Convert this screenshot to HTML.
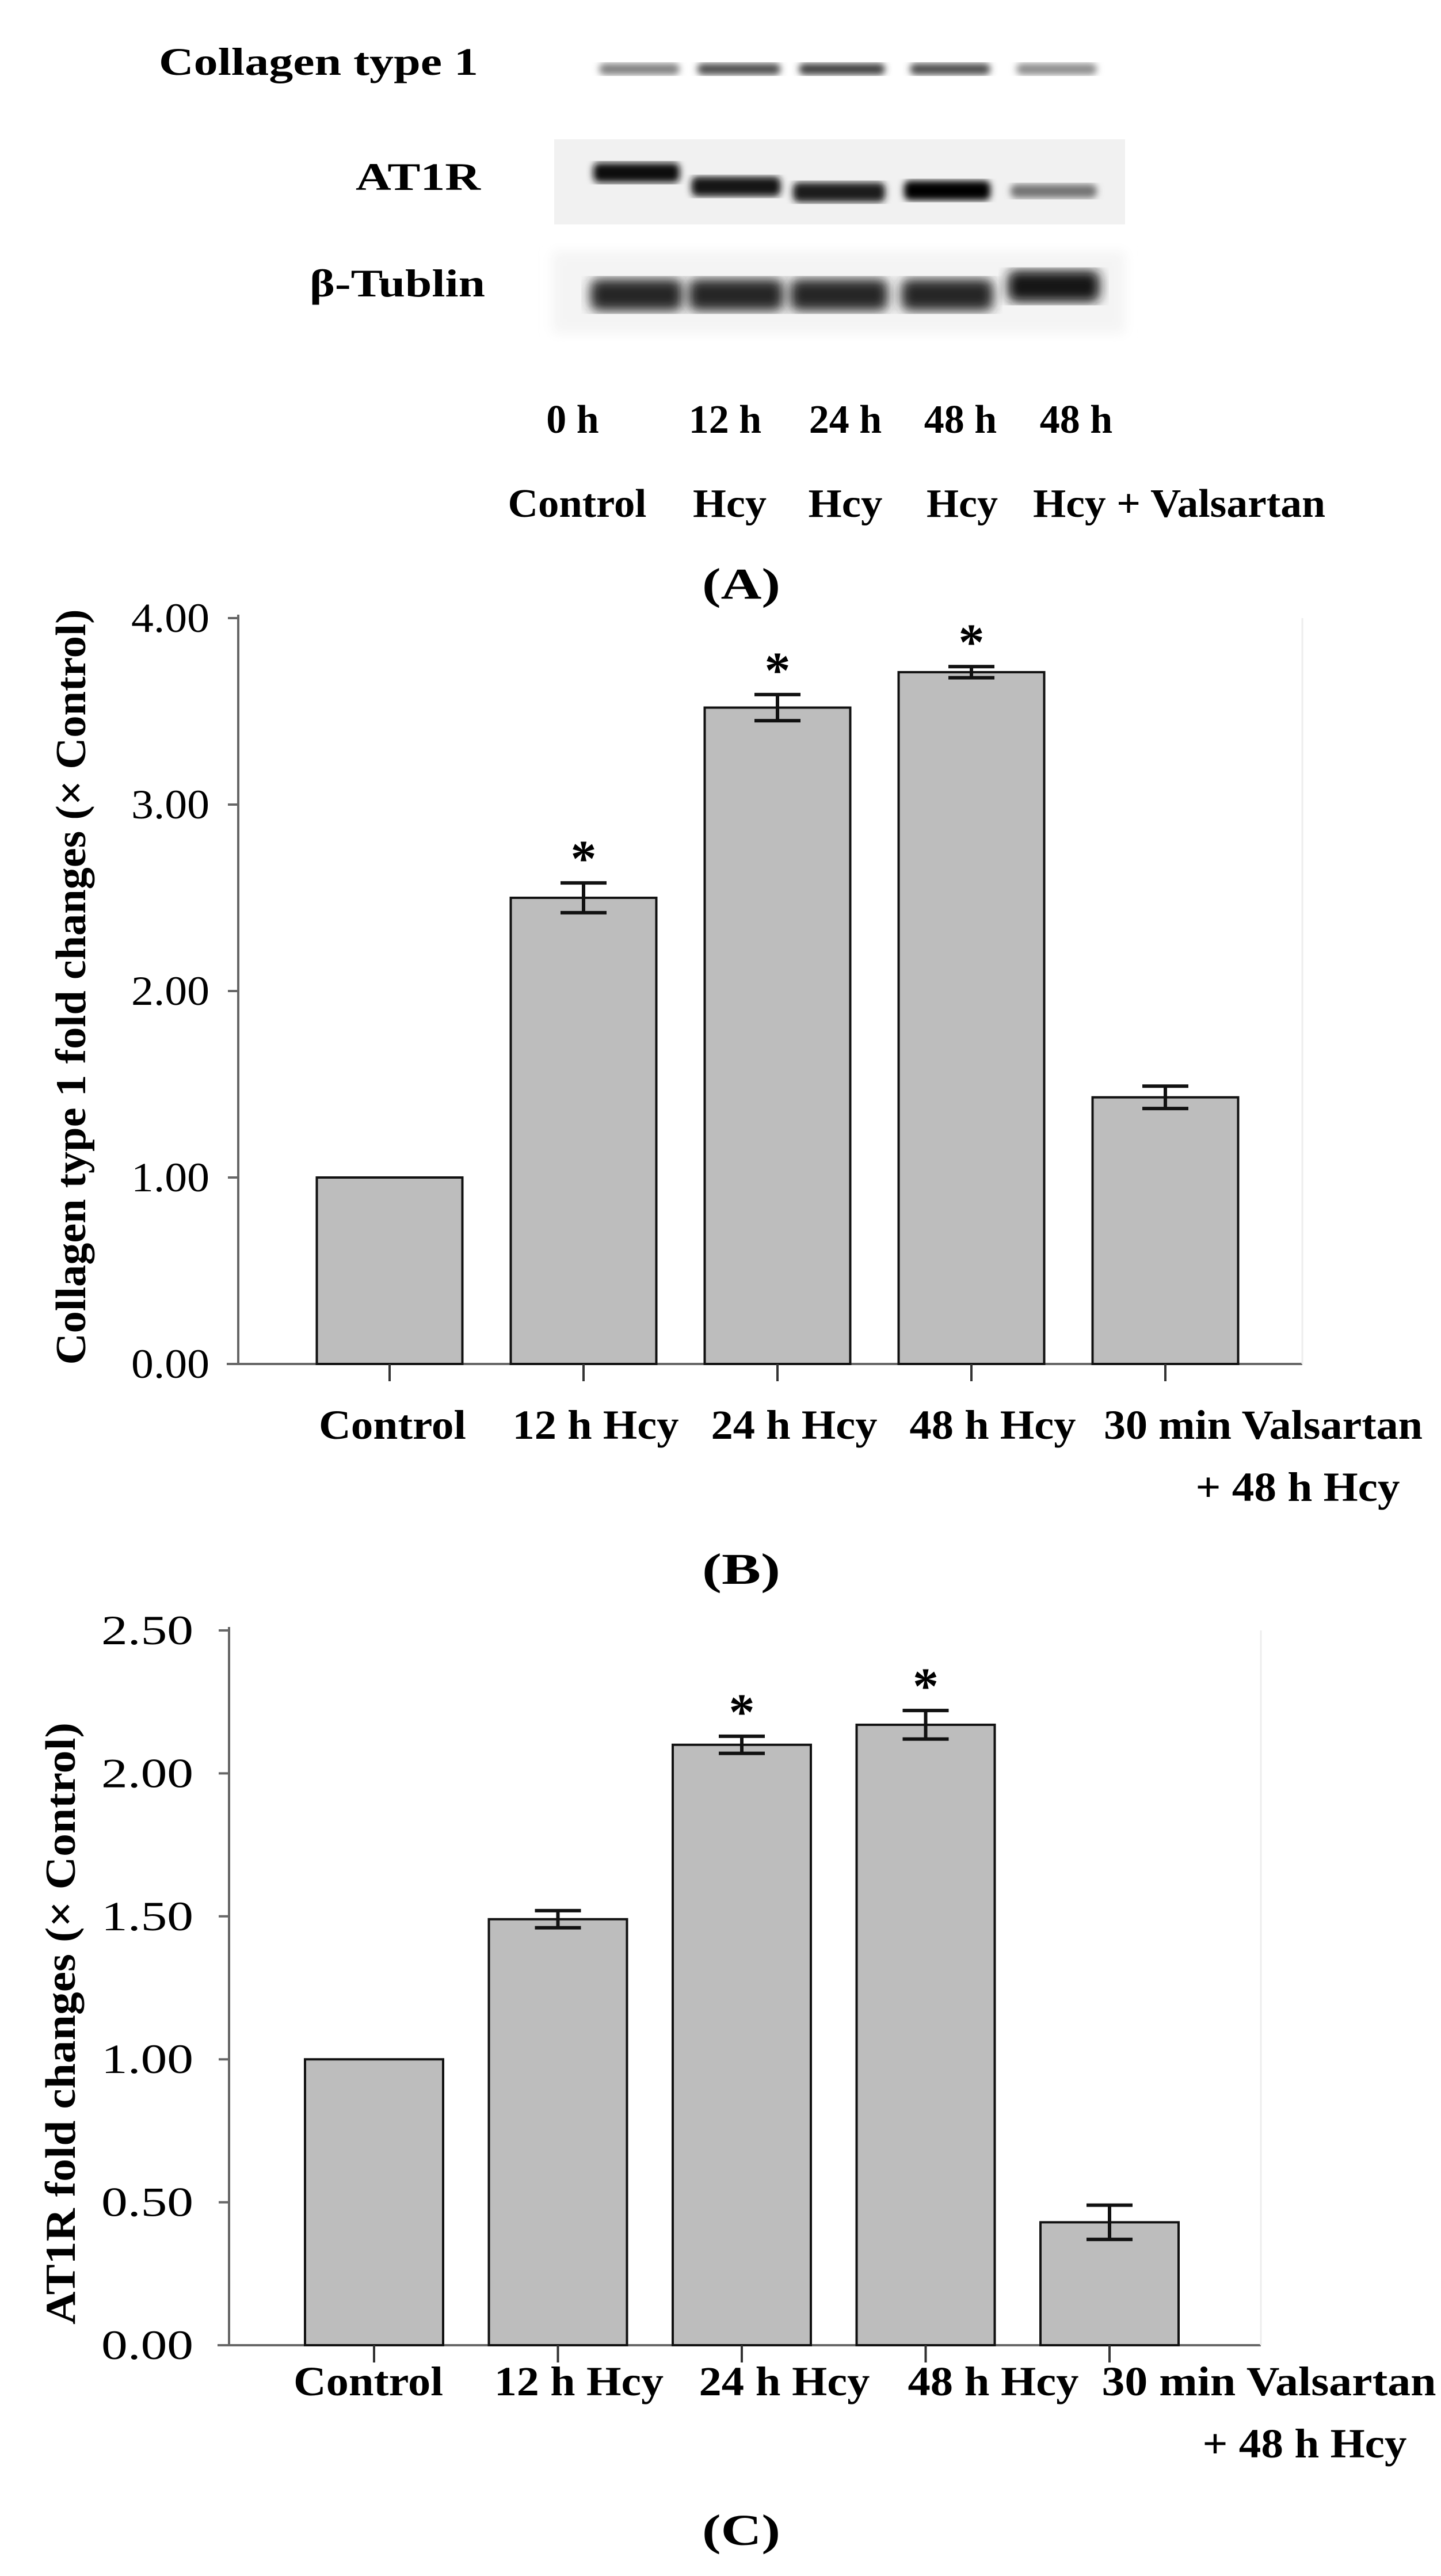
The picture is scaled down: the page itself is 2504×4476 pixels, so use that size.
<!DOCTYPE html>
<html><head><meta charset="utf-8">
<style>
html,body{margin:0;padding:0;background:#fff;}
svg{display:block;}
text{font-family:"Liberation Serif",serif;font-weight:bold;fill:#000;}
</style></head>
<body>
<svg id="fig" width="2504" height="4476" viewBox="0 0 2504 4476" xmlns="http://www.w3.org/2000/svg">
<defs>
<filter id="blur6"><feGaussianBlur stdDeviation="6"/></filter>
<filter id="blur10"><feGaussianBlur stdDeviation="10"/></filter>
</defs>
<g id="panelA">
  <text x="276" y="130" font-size="68" textLength="555" lengthAdjust="spacingAndGlyphs">Collagen type 1</text>
  <text x="618" y="330" font-size="68" textLength="217" lengthAdjust="spacingAndGlyphs">AT1R</text>
  <text x="538" y="515" font-size="68" textLength="305" lengthAdjust="spacingAndGlyphs">β-Tublin</text>
  <rect x="963" y="242" width="992" height="148" fill="#f1f1f1"/>
  <rect x="960" y="437" width="995" height="142" fill="#f4f4f4" filter="url(#blur10)"/>
  <g id="bands"></g>
  <g id="laneLabels"></g>
  <text x="1220" y="1040" font-size="76" textLength="136" lengthAdjust="spacingAndGlyphs">(A)</text>
</g>
<g id="chartB"></g>
<g id="chartC"></g>
</svg>
<script>
// ----- Chart B data -----
const bCategories = ["Control", "12 h Hcy", "24 h Hcy", "48 h Hcy", "30 min Valsartan"];
const bValues = [1.00, 2.50, 3.52, 3.71, 1.43];
const bErrors = [0.00, 0.08, 0.07, 0.03, 0.06];
const bSignif = [false, true, true, true, false];
const bTicks = ["0.00", "1.00", "2.00", "3.00", "4.00"];
const bTickValues = [0, 1, 2, 3, 4];
// ----- Chart C data -----
const cCategories = ["Control", "12 h Hcy", "24 h Hcy", "48 h Hcy", "30 min Valsartan"];
const cValues = [1.00, 1.49, 2.10, 2.17, 0.43];
const cErrors = [0.00, 0.03, 0.03, 0.05, 0.06];
const cSignif = [false, false, true, true, false];
const cTicks = ["0.00", "0.50", "1.00", "1.50", "2.00", "2.50"];
const cTickValues = [0, 0.5, 1, 1.5, 2, 2.5];
// ----- Blot data (band intensity 0..1) -----
const blotCollagen = [0.5, 0.7, 0.75, 0.7, 0.45];
const blotAT1R = [0.95, 0.9, 0.88, 0.98, 0.55];
const blotTubulin = [0.85, 0.85, 0.85, 0.85, 0.9];
const laneTimes = ["0 h", "12 h", "24 h", "48 h", "48 h"];
const laneTreat = ["Control", "Hcy", "Hcy", "Hcy", "Hcy + Valsartan"];

const NS = "http://www.w3.org/2000/svg";
function mk(tag, attrs, parent) {
  const e = document.createElementNS(NS, tag);
  for (const k in attrs) e.setAttribute(k, attrs[k]);
  parent.appendChild(e);
  return e;
}

// Blots
const bandsG = document.getElementById("bands");
const laneX = [1111, 1284, 1463, 1651, 1836];
const laneW = [140, 145, 150, 140, 140];
const at1rY = [299, 323, 333, 330, 336];
blotCollagen.forEach((v, i) => {
  const g = Math.round(255 * (1 - v));
  const r = mk("rect", {x: laneX[i] - laneW[i]/2, y: 110, width: laneW[i], height: 20, rx: 10, fill: `rgb(${g},${g},${g})`, filter: "url(#blur6)"}, bandsG);
  
  
});
blotAT1R.forEach((v, i) => {
  const g = Math.round(255 * (1 - v));
  const r = mk("rect", {x: laneX[i] - laneW[i]/2 - 10, y: at1rY[i] - 16, width: laneW[i] + 10, height: v > 0.7 ? 34 : 24, rx: 10, fill: `rgb(${g},${g},${g})`, filter: "url(#blur6)"}, bandsG);
  
  
});
blotTubulin.forEach((v, i) => {
  const g = Math.round(255 * (1 - v));
  const y = i === 4 ? 470 : 485;
  const r = mk("rect", {x: laneX[i] - laneW[i]/2 - 15, y: y, width: laneW[i] + 20, height: 55, rx: 14, fill: `rgb(${g},${g},${g})`, filter: "url(#blur10)"}, bandsG);
  
  
});
const ll = document.getElementById("laneLabels");
const timeX = [995, 1260, 1469, 1669, 1870];
const treatX = [1003, 1268, 1469, 1672, 2049];
const treatW = [241, 128, 129, 124, 508];
laneTimes.forEach((t, i) => {
  const e = mk("text", {x: timeX[i], y: 752, "font-size": 70, "text-anchor": "middle"}, ll);
  
  
  e.textContent = t;
});
laneTreat.forEach((t, i) => {
  const e = mk("text", {x: treatX[i], y: 898, "font-size": 70, "text-anchor": "middle", textLength: treatW[i], lengthAdjust: "spacingAndGlyphs"}, ll);
  
  
  e.textContent = t;
});

function drawChart(g, o) {
  const yScale = v => o.y0 - (v - o.vmin) / (o.vmax - o.vmin) * (o.y0 - o.y1);
  const xCenter = i => o.xFirst + i * o.step;
  let e = mk("line", {x1: o.ax, y1: o.y1 - 6, x2: o.ax, y2: o.y0, stroke: "#666", "stroke-width": 4}, g);
   
  e = mk("line", {x1: o.ax - 20, y1: o.y0, x2: o.axEnd, y2: o.y0, stroke: "#666", "stroke-width": 4}, g);
   
  e = mk("line", {x1: o.axEnd, y1: o.y1, x2: o.axEnd, y2: o.y0, stroke: "#eee", "stroke-width": 3}, g);
   
  o.tickValues.forEach((tv, k) => {
    const y = yScale(tv);
    let t = mk("line", {x1: o.ax - 18, y1: y, x2: o.ax, y2: y, stroke: "#666", "stroke-width": 4}, g);
     
    t = mk("text", {x: o.ax - o.tickGap, y: y + 24, "font-size": 72, "text-anchor": "end", textLength: o.tickW, lengthAdjust: "spacingAndGlyphs", style: "font-weight:normal"}, g);
     
    t.textContent = o.ticks[k];
  });
  o.values.forEach((v, i) => {
    const cx = xCenter(i);
    const yt = yScale(v);
    let r = mk("rect", {x: cx - o.barW/2, y: yt, width: o.barW, height: o.y0 - yt, fill: "#bdbdbd", stroke: "#111", "stroke-width": 4}, g);
    
    
    let tk = mk("line", {x1: cx, y1: o.y0, x2: cx, y2: o.y0 + 30, stroke: "#333", "stroke-width": 4}, g);
     
    const er = o.errors[i];
    if (er > 0) {
      const ya = yScale(v + er), yb = yScale(v - er);
      const eg = mk("g", {stroke: "#111", "stroke-width": 6}, g);
       
      mk("line", {x1: cx, y1: ya, x2: cx, y2: yb}, eg);
      mk("line", {x1: cx - 40, y1: ya, x2: cx + 40, y2: ya}, eg);
      mk("line", {x1: cx - 40, y1: yb, x2: cx + 40, y2: yb}, eg);
    }
    if (o.signif[i]) {
      const s = mk("text", {x: cx, y: yScale(v + er) - 12, "font-size": 90, "text-anchor": "middle"}, g);
       
      s.textContent = "*";
    }
    const lbl = mk("text", {x: o.labelX[i], y: o.labelY, "font-size": 72, "text-anchor": "middle", textLength: o.labelW[i], lengthAdjust: "spacingAndGlyphs"}, g);
     
    lbl.textContent = o.cats[i];
  });
  let l2 = mk("text", {x: o.line2X, y: o.labelY + 108, "font-size": 72, "text-anchor": "middle", textLength: 355, lengthAdjust: "spacingAndGlyphs"}, g);
   
  l2.textContent = "+ 48 h Hcy";
  let yt = mk("text", {x: 0, y: 0, "font-size": 74, "text-anchor": "middle", textLength: o.titleLen, lengthAdjust: "spacingAndGlyphs", transform: `translate(${o.titleX},${o.titleY}) rotate(-90)`}, g);
   
  yt.textContent = o.title;
  let pl = mk("text", {x: o.panelX, y: o.panelY, "font-size": 76, "text-anchor": "middle", textLength: 136, lengthAdjust: "spacingAndGlyphs"}, g);
   
  pl.textContent = o.panel;
}

drawChart(document.getElementById("chartB"), {
  values: bValues, errors: bErrors, signif: bSignif, cats: bCategories,
  ticks: bTicks, tickValues: bTickValues, vmin: 0, vmax: 4,
  y0: 2370, y1: 1074, ax: 414, axEnd: 2263, xFirst: 677, step: 337, barW: 253,
  tickW: 136, tickGap: 50, labelY: 2500,
  labelX: [682, 1035, 1380, 1725, 2195], labelW: [256, 289, 289, 289, 554], line2X: 2255,
  title: "Collagen type 1 fold changes (× Control)", titleX: 148, titleY: 1715, titleLen: 1313,
  panel: "(B)", panelX: 1288, panelY: 2752
});
drawChart(document.getElementById("chartC"), {
  values: cValues, errors: cErrors, signif: cSignif, cats: cCategories,
  ticks: cTicks, tickValues: cTickValues, vmin: 0, vmax: 2.5,
  y0: 4075, y1: 2833, ax: 398, axEnd: 2191, xFirst: 650, step: 319.5, barW: 240,
  tickW: 160, tickGap: 62, labelY: 4162,
  labelX: [640, 1006, 1363, 1726, 2205], labelW: [260, 294, 297, 297, 581], line2X: 2267,
  title: "AT1R fold changes (× Control)", titleX: 130, titleY: 3516, titleLen: 1046,
  panel: "(C)", panelX: 1288, panelY: 4422
});
</script>
</body></html>
